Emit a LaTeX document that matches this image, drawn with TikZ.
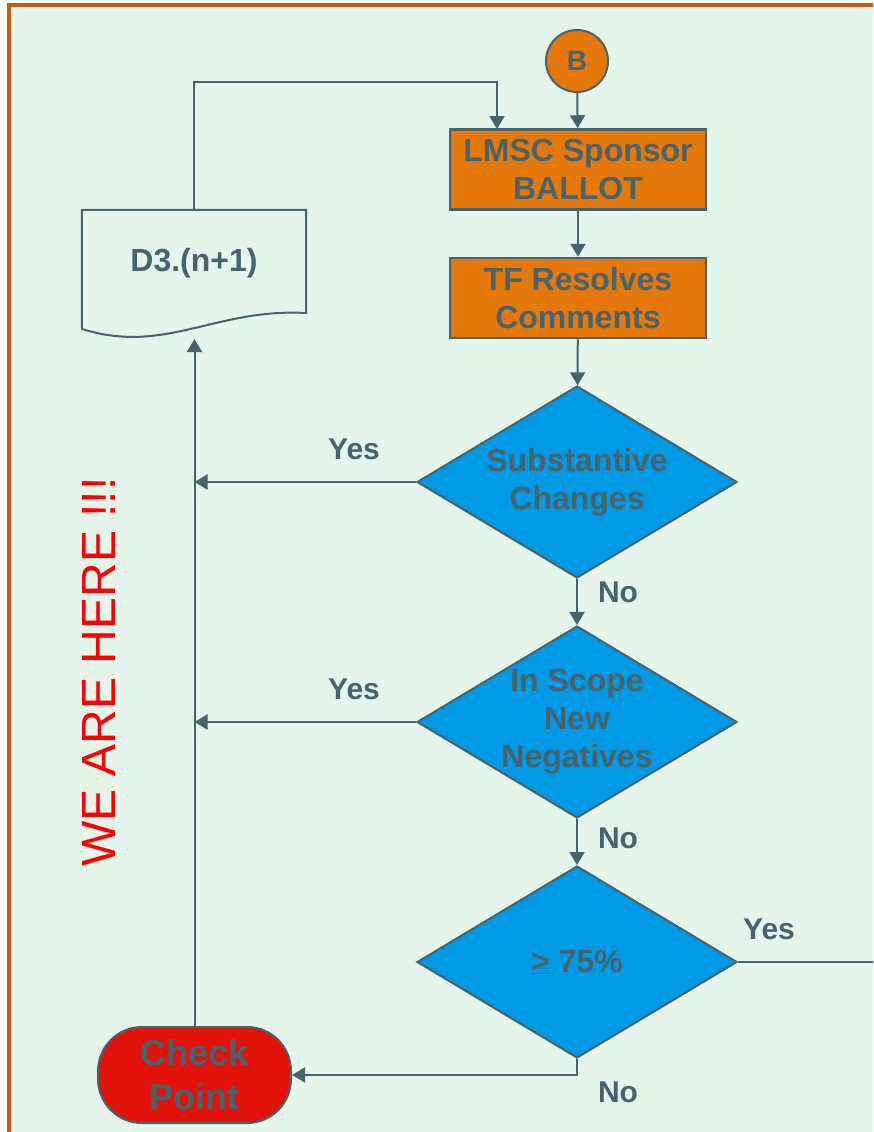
\documentclass[tikz,border=0pt]{standalone}
\usepackage{fontspec}
\setmainfont{Liberation Sans}
\usetikzlibrary{positioning, shapes.geometric, arrows.meta}

\definecolor{slate}{RGB}{72,99,107}
\definecolor{bgmint}{RGB}{229,245,236}
\definecolor{frameorange}{RGB}{197,90,17}
\definecolor{boxorange}{RGB}{228,121,10}
\definecolor{diablue}{RGB}{0,153,230}
\definecolor{cpred}{RGB}{227,18,11}

\begin{document}
\begin{tikzpicture}[x=1pt, y=-1pt,
    flow/.style={draw=slate, line width=2pt, -{Triangle[length=13pt, width=15pt]}},
    wire/.style={draw=slate, line width=2pt},
    proc/.style={rectangle, draw=slate, line width=2.5pt, fill=boxorange, text=slate,
        minimum width=256pt, minimum height=80pt, inner sep=0pt, align=center,
        font=\bfseries\fontsize{32}{38}\selectfont},
    decision/.style={diamond, draw=slate, line width=2pt, fill=diablue,
        minimum width=320pt, minimum height=192pt, inner sep=0pt},
    dtext/.style={text=slate, align=center, inner sep=0pt, font=\bfseries\fontsize{32}{38}\selectfont},
    lbl/.style={text=slate, inner sep=0pt, font=\bfseries\fontsize{30}{36}\selectfont}]

    \useasboundingbox (0,0) rectangle (873,1132);
    \clip (0,0) rectangle (873,1132);
    \fill[white] (0,0) rectangle (873,1132);
    \draw[frameorange, line width=3.5pt, fill=bgmint] (9,5) rectangle (900,1160);

    \node[circle, draw=slate, line width=2pt, fill=boxorange, minimum size=62pt, inner sep=0pt,
        text=slate, font=\bfseries\fontsize{28}{32}\selectfont] (b) at (577,61) {B};
    \node[proc] (lmsc) at (578,169.5) {LMSC Sponsor\\BALLOT};
    \node[proc] (tf) at (578,298) {TF Resolves\\Comments};
    \node[decision, label={[dtext]center:{Substantive\\Changes}}] (subst) at (577,482) {};
    \node[decision, label={[dtext]center:{In Scope\\New\\Negatives}}] (scope) at (577,722) {};
    \node[decision, label={[dtext]center:{\underline{>}\ 75\%}}] (pct) at (577,962) {};

    \node[text=slate, minimum width=224pt, minimum height=106pt, inner sep=0pt,
        font=\bfseries\fontsize{32}{38}\selectfont] (d3) at (194,263) {D3.(n+1)};
    \draw[wire] (82,329) -- (d3.north west) -- (d3.north east) -- (306,313)
        .. controls (215,308) and (165,355) .. cycle;

    \node[rectangle, rounded corners=44pt, draw=slate, line width=2pt, fill=cpred,
        minimum width=193pt, minimum height=96pt, inner sep=0pt, text=slate, align=center,
        font=\bfseries\fontsize{36}{44}\selectfont] (chk) at (194.5,1075) {Check\\Point};

    \node[rotate=90, text=red, inner sep=0pt, font=\fontsize{48}{56}\selectfont] (here) at (99,672) {WE ARE HERE !!!};

    \coordinate (lmscin) at (497,129);
    \coordinate (docin) at (194.5,339);
    \coordinate (exit) at (880,962);

    \draw[flow] (b) -- (lmsc);
    \draw[flow] (lmsc) -- (tf);
    \draw[flow] (tf) -- (subst);
    \draw[flow] (subst) -- (scope);
    \draw[flow] (scope) -- (pct);
    \draw[flow] (subst.west) -- (subst.west -| chk.north);
    \draw[flow] (scope.west) -- (scope.west -| chk.north);
    \draw[flow] (pct.south) |- (chk.east);
    \draw[wire] (pct.east) -- (exit);
    \draw[flow] (chk.north) -- (docin);
    \draw[flow] (d3.north) -- (d3.north |- 0,82) -| (lmscin);

    \node[lbl] (yes1) at (354,449) {Yes};
    \node[lbl] (no1) at (618,592) {No};
    \node[lbl] (yes2) at (354,689) {Yes};
    \node[lbl] (no2) at (618,838) {No};
    \node[lbl] (yes3) at (769,929) {Yes};
    \node[lbl] (no3) at (618,1092) {No};
\end{tikzpicture}
\end{document}
